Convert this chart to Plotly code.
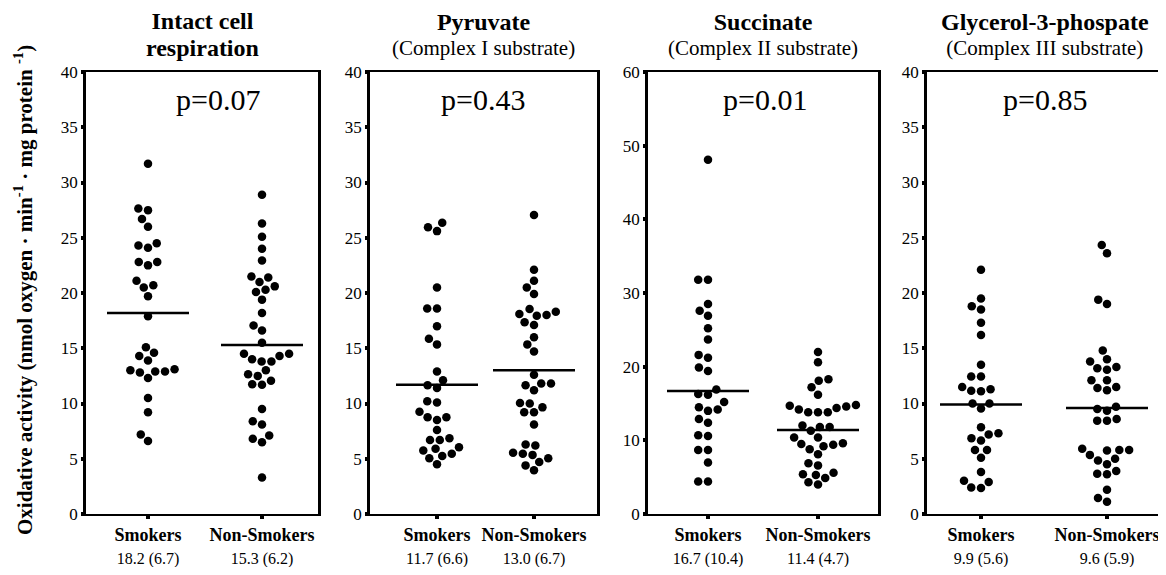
import math
import plotly.graph_objects as go

# ---------------- data ----------------
groups = ["Smokers", "Non-Smokers"]

panel_titles = ["Intact cell<br>respiration", "Pyruvate", "Succinate", "Glycerol-3-phospate"]
panel_subtitles = ["", "(Complex I substrate)", "(Complex II substrate)", "(Complex III substrate)"]
p_values = ["p=0.07", "p=0.43", "p=0.01", "p=0.85"]

intact_smokers = [31.7, 27.65, 27.5, 26.7, 26.0, 24.5, 24.1, 24.3, 22.5, 22.8, 22.8, 20.7, 20.5, 21.1,
                  19.7, 17.9, 15.1, 13.9, 14.3, 14.6, 12.9, 12.9, 12.3, 12.8, 13.1, 13.0, 10.5, 9.2, 6.6, 7.2]
intact_non = [28.9, 26.3, 25.1, 24.0, 22.95, 21.5, 21.4, 20.3, 21.0, 20.1, 20.6, 19.4, 18.2, 17.05, 16.6,
              15.5, 14.5, 13.8, 14.5, 13.8, 14.3, 14.0, 13.0, 12.65, 12.5, 12.05, 11.7, 11.75, 9.5, 8.4,
              8.1, 7.1, 6.8, 6.5, 3.3]

pyr_smokers = [26.35, 25.6, 25.95, 20.5, 18.6, 18.6, 17.0, 15.85, 15.35, 12.9, 12.1, 11.65, 11.4, 10.1,
               10.2, 9.25, 8.75, 8.75, 8.5, 7.6, 6.7, 6.7, 6.85, 5.9, 6.05, 5.75, 5.05, 5.45, 5.25, 4.5]
pyr_non = [27.05, 22.1, 21.1, 20.5, 19.9, 18.55, 18.1, 18.0, 17.95, 18.3, 17.35, 17.1, 16.0, 15.35, 14.7,
           12.6, 11.8, 11.8, 11.65, 11.2, 10.05, 10.0, 9.2, 9.2, 9.65, 8.1, 6.2, 6.3, 5.45, 5.35, 5.05,
           5.55, 4.7, 4.4, 3.95]

succ_smokers = [48.1, 31.8, 31.8, 28.5, 27.6, 26.9, 25.2, 23.7, 21.6, 21.2, 19.9, 19.4, 16.9, 16.2, 16.3,
                15.2, 14.2, 14.5, 14.0, 12.9, 12.4, 10.6, 10.7, 8.7, 8.7, 7.0, 4.4, 4.4]
succ_non = [22.0, 20.6, 18.3, 18.1, 17.2, 16.2, 14.6, 14.7, 14.8, 14.2, 13.8, 14.4, 13.8, 13.8, 12.0,
            11.8, 11.3, 11.8, 10.4, 10.4, 8.8, 9.5, 9.2, 9.6, 9.4, 8.1, 6.6, 6.9, 4.9, 5.6, 5.3, 5.4,
            4.0, 4.3]

g3p_smokers = [22.1, 19.5, 18.5, 18.8, 17.3, 16.2, 13.5, 12.45, 12.45, 11.3, 11.1, 11.15, 11.5, 10.0,
               10.0, 9.55, 7.85, 7.3, 7.2, 6.85, 6.65, 5.8, 5.8, 5.1, 3.8, 3.0, 2.9, 2.35, 2.4]
g3p_non = [24.35, 23.6, 19.4, 19.0, 14.8, 13.8, 14.0, 13.2, 13.05, 13.3, 12.1, 12.1, 11.5, 11.4, 11.2,
           9.35, 9.7, 9.5, 8.45, 8.45, 8.6, 5.8, 5.9, 5.35, 5.8, 5.75, 5.0, 4.5, 4.85, 3.65, 3.6, 3.9,
           2.2, 1.45, 1.1]

means = [[18.2, 15.3], [11.7, 13.0], [16.7, 11.4], [9.9, 9.6]]
sds = [[6.7, 6.2], [6.6, 6.7], [10.4, 4.7], [5.6, 5.9]]
y_max = [40, 40, 60, 40]
y_step = [5, 5, 10, 5]

series = [[intact_smokers, intact_non], [pyr_smokers, pyr_non],
          [succ_smokers, succ_non], [g3p_smokers, g3p_non]]

# ---------------- layout geometry (pixels in the window) ----------------
OFF = 8                      # page body margin
W, H = 1166 - OFF, 575 - 2 * OFF
panels_px = [  # left, right, cat0, cat1
    (86, 318, 148, 262),
    (370, 597, 437, 534),
    (648, 878, 708, 818),
    (927, 1162, 981, 1107),
]
p_xfrac = [0.57, 0.5, 0.51, 0.5]
top_px, bot_px = 72, 514
DOT = 8.5
SERIF = "Liberation Serif"


def fx(px):
    return (px - OFF) / W


def fy(py):
    return 1 - (py - OFF) / H


def swarm(values, px_per_y, px_per_x, d):
    """Simple beeswarm: return x offsets (in data units)."""
    order = sorted(range(len(values)), key=lambda i: values[i])
    placed = []
    offs = [0.0] * len(values)
    for i in order:
        y = values[i] * px_per_y
        cands = [0.0]
        for (px, py) in placed:
            dy = abs(py - y)
            if dy < d:
                dx = math.sqrt(d * d - dy * dy)
                cands += [px + dx, px - dx]
        cands.sort(key=lambda c: (abs(c), c))
        for c in cands:
            if all((c - px) ** 2 + (y - py) ** 2 >= d * d - 1e-6 for (px, py) in placed):
                placed.append((c, y))
                offs[i] = c / px_per_x
                break
    return offs


fig = go.Figure()
annotations = []
ydom = [fy(bot_px), fy(top_px)]

for k in range(4):
    left, right, c0, c1 = panels_px[k]
    sp = c1 - c0
    xr = [(left - c0) / sp, (right - c0) / sp]
    px_per_y = (bot_px - top_px) / y_max[k]
    ax = "" if k == 0 else str(k + 1)
    xa, ya = "x" + ax, "y" + ax

    for g in range(2):
        vals = series[k][g]
        offs = swarm(vals, px_per_y, sp, DOT + 1.3)
        fig.add_trace(go.Scatter(
            x=[g + o for o in offs], y=vals, mode="markers",
            marker=dict(color="black", size=DOT, line=dict(width=0)),
            xaxis=xa, yaxis=ya, showlegend=False, hoverinfo="y"))
        h = 41 / sp
        fig.add_trace(go.Scatter(
            x=[g - h, g + h], y=[means[k][g]] * 2, mode="lines",
            line=dict(color="black", width=2.5),
            xaxis=xa, yaxis=ya, showlegend=False, hoverinfo="skip"))

    ticktext = ["<b>%s</b><br><span style='font-size:16px'>%.1f (%.1f)</span>" % (groups[g], means[k][g], sds[k][g])
                for g in range(2)]
    fig.layout["xaxis" + ax] = dict(
        domain=[fx(left), fx(right)], range=xr, anchor=ya, showgrid=False, zeroline=False,
        showline=True, linecolor="black", linewidth=2.2, mirror=True, automargin=False,
        tickvals=[0, 1], ticktext=ticktext, ticks="outside", ticklen=3, tickwidth=4,
        tickcolor="black", tickfont=dict(family=SERIF, size=18, color="black"),
        fixedrange=True)
    fig.layout["yaxis" + ax] = dict(
        domain=ydom, range=[0, y_max[k]], anchor=xa, showgrid=False, zeroline=False,
        showline=True, linecolor="black", linewidth=2.5, mirror=True, automargin=False,
        tickmode="linear", tick0=0, dtick=y_step[k], ticks="outside", ticklen=2, tickwidth=4,
        tickcolor="black", tickfont=dict(family=SERIF, size=17, color="black"),
        fixedrange=True)

    annotations.append(dict(
        text=p_values[k], xref="x" + ax + " domain", yref="paper",
        x=p_xfrac[k], y=fy(100), showarrow=False,
        font=dict(family=SERIF, size=30, color="black"), xanchor="center", yanchor="middle"))
    cx = fx((left + right) / 2)
    if panel_subtitles[k]:
        text = ("<b><span style='font-size:24px'>%s</span></b><br>"
                "<span style='font-size:21px'>%s</span>") % (panel_titles[k], panel_subtitles[k])
        base = 19.5
    else:
        text = "<b><span style='font-size:24px'>%s</span></b>" % panel_titles[k]
        base = 21
    annotations.append(dict(
        text=text, xref="paper", yref="paper",
        x=cx, y=fy(35), showarrow=False, xanchor="center", yanchor="middle",
        font=dict(family=SERIF, size=base, color="black")))

annotations.append(dict(
    text="<b>Oxidative activity (nmol oxygen · min<sup>-1</sup> · mg protein <sup>-1</sup>)</b>",
    xref="paper", yref="paper", x=fx(23), y=fy(290), textangle=-90, showarrow=False,
    xanchor="center", yanchor="middle", font=dict(family=SERIF, size=21, color="black")))

fig.update_layout(
    width=W, height=H, margin=dict(l=0, r=0, t=0, b=0, autoexpand=False),
    paper_bgcolor="white", plot_bgcolor="white",
    annotations=annotations, showlegend=False)

fig.write_html("out.html")
